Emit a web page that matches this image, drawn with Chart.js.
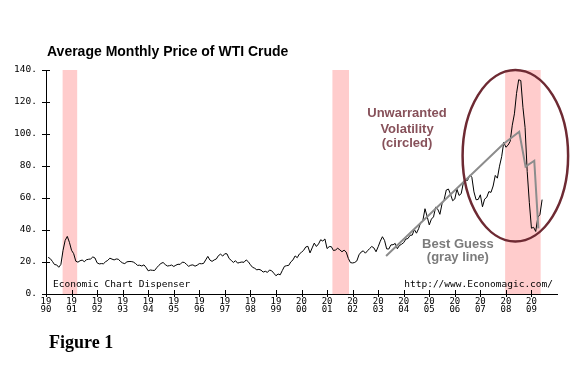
<!DOCTYPE html>
<html>
<head>
<meta charset="utf-8">
<script src="https://cdn.jsdelivr.net/npm/chart.js@4/dist/chart.umd.min.js"></script>
<style>
	body { margin: 0; background: #fff; }
	canvas { display: block; }
</style>
</head>
<body>
<canvas id="wtiChart" width="580" height="370"></canvas>
<script>
// monthly average WTI price, Jan 1990 .. May 2009
const wtiPrices = [
	22.9, 22.1, 20.4, 18.4, 18.2, 16.7, 18.5, 27.3, 33.5, 36.0, 32.3, 27.3,
	25.2, 20.5, 19.9, 20.8, 21.2, 20.2, 21.4, 21.7, 21.9, 23.2, 22.5, 19.5,
	18.8, 19.0, 18.9, 20.2, 21.0, 22.4, 21.8, 21.3, 21.9, 21.7, 20.3, 19.4,
	19.0, 20.1, 20.3, 20.3, 20.0, 19.1, 17.9, 18.0, 17.5, 18.2, 16.6, 14.5,
	15.0, 14.8, 14.7, 16.4, 17.9, 19.1, 19.7, 18.4, 17.5, 17.7, 18.1, 17.2,
	18.0, 18.6, 18.5, 19.9, 19.7, 18.5, 17.3, 18.0, 18.2, 17.4, 18.0, 19.0,
	18.9, 19.1, 21.3, 23.5, 21.2, 20.4, 21.3, 21.9, 24.0, 24.9, 23.7, 25.2,
	25.1, 22.2, 21.0, 19.7, 20.8, 19.3, 19.7, 20.0, 19.8, 21.3, 20.2, 18.3,
	16.7, 16.1, 15.1, 15.4, 14.9, 13.7, 14.2, 13.5, 15.0, 14.5, 13.0, 11.4,
	12.5, 12.0, 14.7, 17.3, 17.7, 17.9, 20.1, 21.3, 23.8, 22.7, 25.0, 26.1,
	27.3, 29.4, 29.8, 25.7, 28.8, 31.8, 29.7, 31.3, 33.9, 33.1, 34.4, 28.4,
	29.6, 29.6, 27.2, 27.5, 28.6, 27.6, 26.4, 27.4, 26.2, 22.2, 19.6, 19.4,
	19.7, 20.7, 24.5, 26.2, 27.0, 25.5, 27.0, 28.4, 29.7, 28.8, 26.4, 29.5,
	33.0, 35.8, 33.5, 28.2, 28.1, 30.7, 30.8, 31.6, 28.3, 30.3, 31.1, 32.1,
	34.3, 34.7, 36.7, 36.8, 40.3, 38.0, 40.8, 44.9, 45.9, 53.3, 48.5, 43.2,
	46.8, 48.2, 54.2, 53.0, 49.8, 56.4, 59.0, 65.0, 65.6, 62.3, 58.3, 59.4,
	65.5, 61.6, 62.7, 69.4, 70.8, 71.0, 74.4, 73.0, 63.8, 58.9, 59.1, 62.0,
	54.5, 59.3, 60.4, 64.0, 63.5, 67.5, 74.1, 72.4, 79.9, 85.8, 94.8, 91.7,
	93.0, 95.4, 105.5, 112.6, 125.4, 133.9, 133.4, 116.7, 104.1, 76.6, 57.3, 41.1,
	41.7, 39.1, 47.9, 49.7, 59.0
];

// the hand drawn "best guess" line
const guessYears = [2003.31, 2007.9, 2008.52, 2008.77, 2009.11, 2009.27];
const guessValues = [23.7, 93.7, 101.4, 79.6, 83.3, 41.0];

// recession bands
const recessionStart = [1990.65, 2001.21, 2007.97];
const recessionEnd = [1991.22, 2001.86, 2009.36];

const yearTicks = [1990, 1991, 1992, 1993, 1994, 1995, 1996, 1997, 1998, 1999,
	2000, 2001, 2002, 2003, 2004, 2005, 2006, 2007, 2008, 2009];
const priceTicks = [0, 20, 40, 60, 80, 100, 120, 140];

const monoFont = "'DejaVu Sans Mono', monospace";
const sansFont = "'Liberation Sans', Arial, sans-serif";

let decorPlugin = {
	id: 'decor',
	beforeDatasetsDraw: function(chart) {
		let ctx = chart.ctx;
		let xs = chart.scales.x, ys = chart.scales.y;
		ctx.save();
		ctx.fillStyle = '#ffcccc';
		let top = ys.getPixelForValue(140), bottom = ys.getPixelForValue(0);
		for (let i = 0; i < recessionStart.length; i++) {
			let x0 = xs.getPixelForValue(recessionStart[i]);
			let x1 = xs.getPixelForValue(recessionEnd[i]);
			ctx.fillRect(x0, top, x1 - x0, bottom - top);
		}
		ctx.restore();
	},
	afterDraw: function(chart) {
		let ctx = chart.ctx;
		let xs = chart.scales.x, ys = chart.scales.y;
		let area = chart.chartArea;
		ctx.save();

		// tick marks crossing the axes
		ctx.strokeStyle = '#000';
		ctx.lineWidth = 1;
		ctx.beginPath();
		xs.ticks.forEach(function(t) {
			let px = Math.round(xs.getPixelForValue(t.value)) + 0.5;
			ctx.moveTo(px, area.bottom - 4);
			ctx.lineTo(px, area.bottom + 3);
		});
		ys.ticks.forEach(function(t) {
			let py = Math.round(ys.getPixelForValue(t.value)) + 0.5;
			ctx.moveTo(area.left - 4, py);
			ctx.lineTo(area.left + 4, py);
		});
		ctx.stroke();

		// circle round the volatile part
		let cx = xs.getPixelForValue(2008.37);
		let cy = ys.getPixelForValue(86.4);
		let rx = xs.getPixelForValue(2008.37 + 2.065) - cx;
		let ry = ys.getPixelForValue(86.4 - 53.6) - cy;
		ctx.strokeStyle = '#6e2a33';
		ctx.lineWidth = 2.5;
		ctx.beginPath();
		ctx.ellipse(cx, cy, rx, ry, 0, 0, Math.PI * 2);
		ctx.stroke();

		// titles and notes
		ctx.textBaseline = 'middle';
		ctx.fillStyle = '#000';
		ctx.textAlign = 'left';
		ctx.font = 'bold 14px ' + sansFont;
		ctx.fillText('Average Monthly Price of WTI Crude', 47, 52);
		ctx.font = 'bold 18px "Liberation Serif", "Times New Roman", serif';
		ctx.fillText('Figure 1', 49, 343);
		ctx.font = '9.5px ' + monoFont;
		ctx.fillText('Economic Chart Dispenser', 53, 285);
		ctx.textAlign = 'right';
		ctx.fillText('http://www.Economagic.com/', 553, 285);

		ctx.textAlign = 'center';
		ctx.font = 'bold 13px ' + sansFont;
		ctx.fillStyle = '#87515a';
		let noteX = xs.getPixelForValue(2004.13);
		ctx.fillText('Unwarranted', noteX, ys.getPixelForValue(113.1));
		ctx.fillText('Volatility', noteX, ys.getPixelForValue(103.1));
		ctx.fillText('(circled)', noteX, ys.getPixelForValue(94.2));
		ctx.fillStyle = '#7b7b7b';
		let guessX = xs.getPixelForValue(2006.12);
		ctx.fillText('Best Guess', guessX, ys.getPixelForValue(31.2));
		ctx.fillText('(gray line)', guessX, ys.getPixelForValue(22.7));

		ctx.restore();
	}
};

let config = {
	type: 'line',
	data: {
		datasets: [{
			data: wtiPrices.map(function(v, i) { return {x: 1990 + (i + 1) / 12, y: v}; }),
			borderColor: '#000',
			borderWidth: 1,
			pointRadius: 0,
			tension: 0,
			order: 2
		}, {
			data: guessYears.map(function(v, i) { return {x: v, y: guessValues[i]}; }),
			borderColor: '#8c8c8c',
			borderWidth: 2,
			pointRadius: 0,
			tension: 0,
			order: 1
		}]
	},
	options: {
		responsive: false,
		animation: false,
		devicePixelRatio: 1,
		layout: {
			padding: {top: 70, left: 0, right: 23, bottom: 46}
		},
		plugins: {
			legend: {display: false},
			tooltip: {enabled: false}
		},
		scales: {
			x: {
				type: 'linear',
				min: 1990,
				max: 2010,
				afterBuildTicks: function(scale) {
					scale.ticks = yearTicks.map(function(v) { return {value: v}; });
				},
				afterFit: function(scale) { scale.height = 30; },
				grid: {display: false, drawTicks: false},
				border: {display: true, color: '#000', width: 1},
				ticks: {
					autoSkip: false,
					maxRotation: 0,
					padding: 3,
					color: '#000',
					font: {family: monoFont, size: 9, lineHeight: 0.95},
					callback: function(v) {
						let s = String(v);
						return [s.slice(0, 2), s.slice(2)];
					}
				}
			},
			y: {
				min: 0,
				max: 140,
				afterBuildTicks: function(scale) {
					scale.ticks = priceTicks.map(function(v) { return {value: v}; });
				},
				afterFit: function(scale) { scale.width = 46; },
				grid: {display: false, drawTicks: false},
				border: {display: true, color: '#000', width: 1},
				ticks: {
					padding: 9,
					color: '#000',
					font: {family: monoFont, size: 9.5},
					callback: function(v) { return v + '.'; }
				}
			}
		}
	},
	plugins: [decorPlugin]
};

let wtiChart = new Chart(document.getElementById('wtiChart'), config);
</script>
</body>
</html>
